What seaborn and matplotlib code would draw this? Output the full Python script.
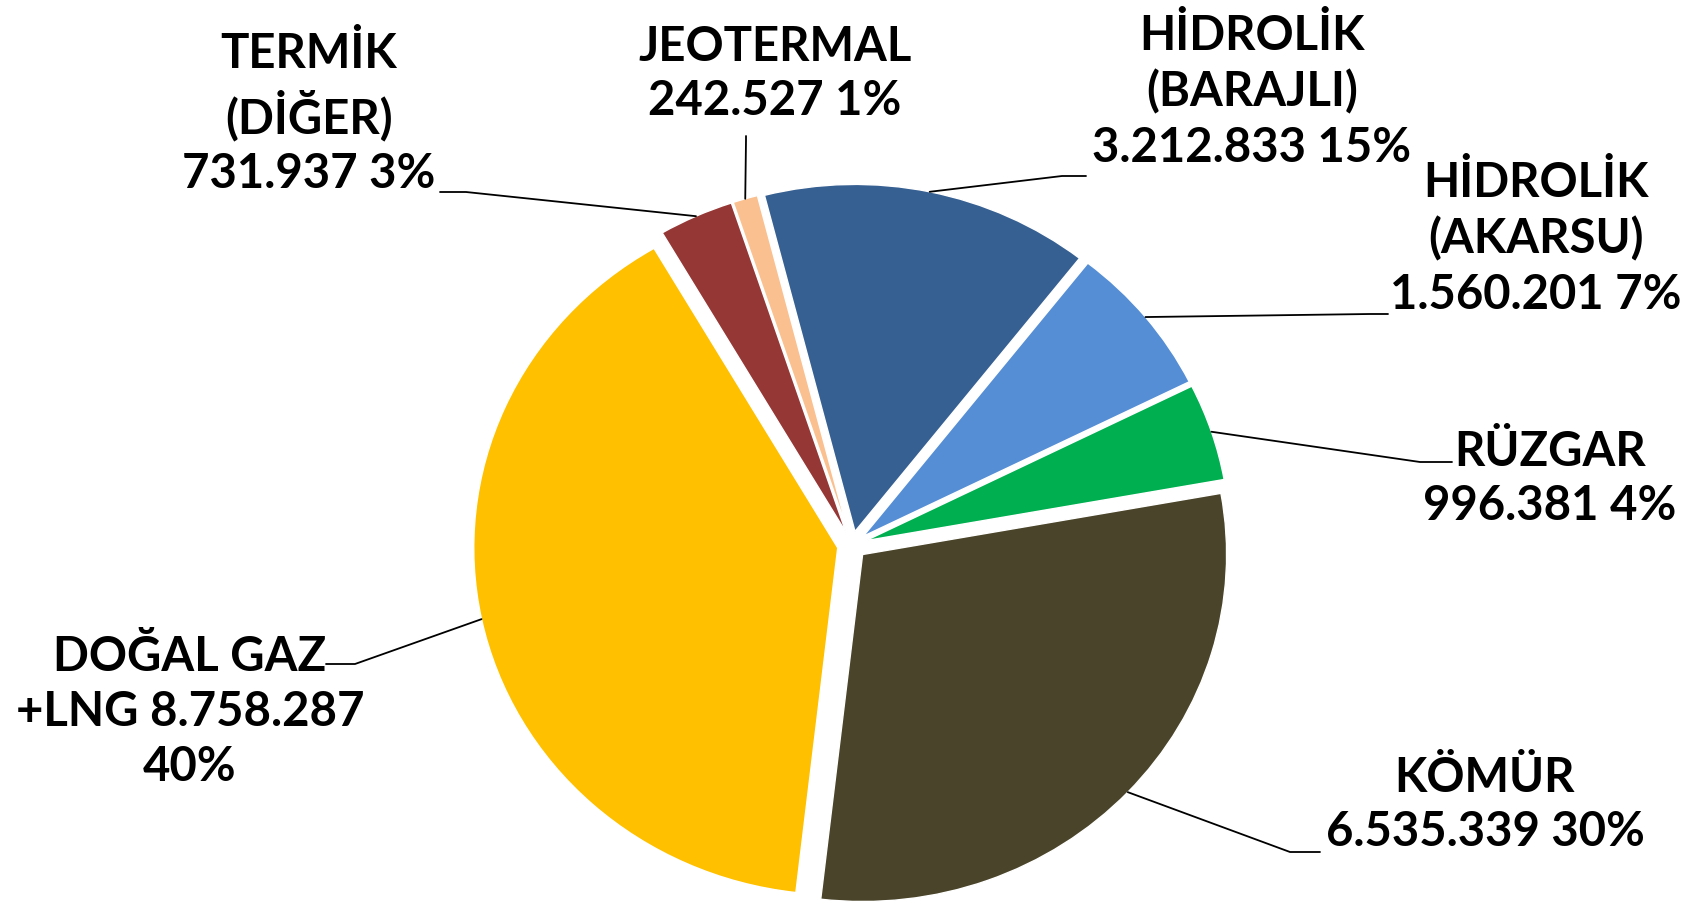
import numpy as np
import matplotlib
matplotlib.use("Agg")
import matplotlib.pyplot as plt
import seaborn as sns

# data, clockwise from the top
names = ['HİDROLİK\n(BARAJLI)', 'HİDROLİK\n(AKARSU)', 'RÜZGAR', 'KÖMÜR',
         'DOĞAL GAZ\n+LNG', 'TERMİK\n(DİĞER)', 'JEOTERMAL']
values = [3212833, 1560201, 996381, 6535339, 8758287, 731937, 242527]
pct_labels = ['15%', '7%', '4%', '30%', '40%', '3%', '1%']
value_sep = ['\n', '\n', '\n', '\n', ' ', '\n', '\n']
pct_sep = [' ', ' ', ' ', ' ', '\n', ' ', ' ']
hex_colors = ['#376092', '#558ED5', '#00B050', '#4A452A', '#FFC000', '#953735', '#FAC090']

# layout (pixels in the 1700x908 image)
W, H = 1700, 908
CX, CY = 852, 545   # pie centre
SX, SY = 364, 347   # radius in px (x, y)
label_pos = [(1252, 92), (1536, 239), (1550, 479), (1485, 805),
             (190, 712), (309, 114), (775, 74)]
leader_elbow = [(1062, 176), (1370, 314), (1420, 462), (1290, 852),
                (355, 664), (466, 192), (746, 140)]
leader_end = [(1086, 176), (1388, 314), (1452, 462), (1320, 852),
              (326, 664), (440, 192), (746, 136)]


def px(x, y):
    return (x - CX) / SX, (CY - y) / SY


def fmt(v):
    return f"{v:,}".replace(",", ".")


sns.set_style("white")
plt.rcParams['font.family'] = ['Lato', 'DejaVu Sans']
colors = sns.color_palette(hex_colors)

fig = plt.figure(figsize=(W / 100, H / 100), dpi=100)
ax = fig.add_axes([0, 0, 1, 1])

wedges, _ = ax.pie(values, colors=colors, startangle=104.4, counterclock=False,
                   explode=[0.04] * len(values), radius=1,
                   wedgeprops=dict(edgecolor='white', linewidth=1))
ax.set_aspect('auto')
ax.set_xlim(-CX / SX, (W - CX) / SX)
ax.set_ylim(-(H - CY) / SY, CY / SY)
ax.axis('off')

for i, w in enumerate(wedges):
    mid = np.deg2rad((w.theta1 + w.theta2) / 2)
    ax0 = w.center[0] + w.r * np.cos(mid)
    ay0 = w.center[1] + w.r * np.sin(mid)
    ex, ey = px(*leader_elbow[i])
    tx, ty = px(*leader_end[i])
    ax.plot([ax0, ex, tx], [ay0, ey, ty], color='black', lw=1.3)

    text = f"{names[i]}{value_sep[i]}{fmt(values[i])}{pct_sep[i]}{pct_labels[i]}"
    lx, ly = px(*label_pos[i])
    ax.text(lx, ly, text, ha='center', va='center', fontsize=34,
            fontweight='bold', linespacing=1.3, color='black')

fig.savefig("out.png", dpi=100)
